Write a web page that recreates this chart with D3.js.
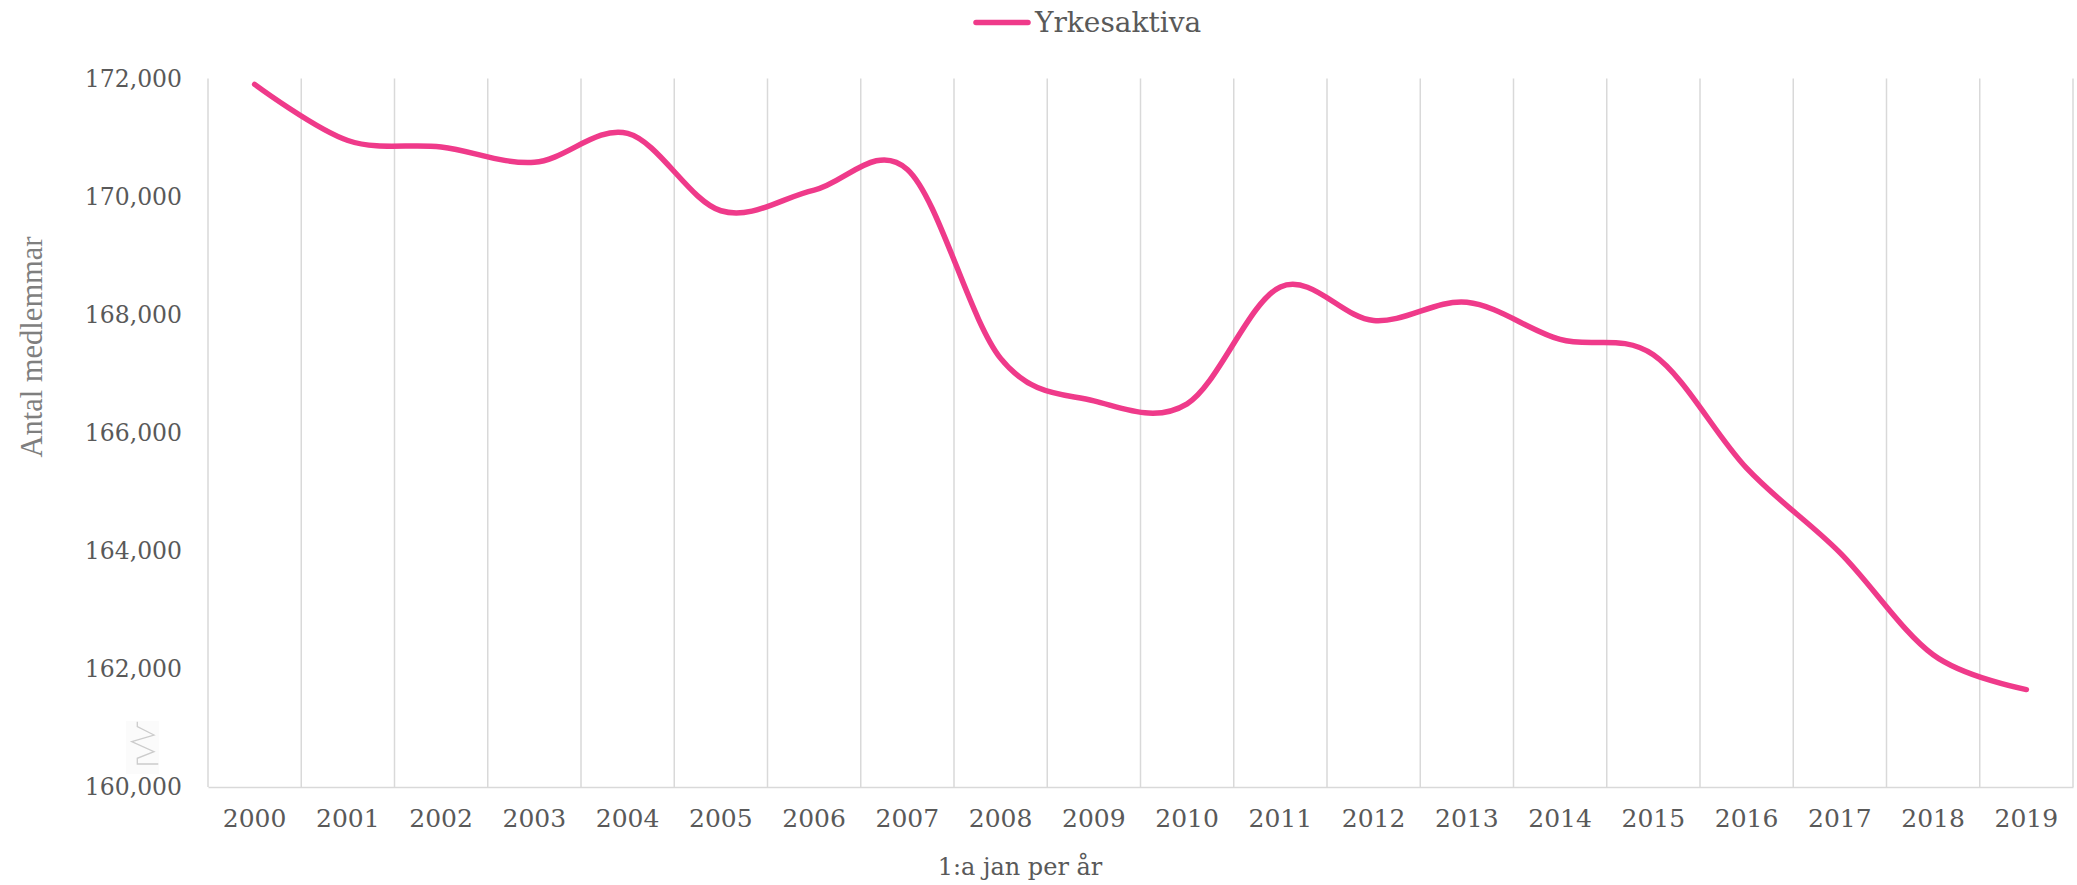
<!DOCTYPE html>
<html>
<head>
<meta charset="utf-8">
<script src="https://cdn.jsdelivr.net/npm/d3@7"></script>
<style>
  html, body { margin: 0; padding: 0; background: #ffffff; }
  svg { display: block; }
</style>
</head>
<body>
<svg id="chart" width="2077" height="885"></svg>
<script>
// ---- Data ----
const years = ["2000","2001","2002","2003","2004","2005","2006","2007","2008","2009",
               "2010","2011","2012","2013","2014","2015","2016","2017","2018","2019"];
const yrkesaktiva = [171900, 170950, 170840, 170580, 171070, 169760, 170110, 170460, 167260, 166540,
                     166490, 168470, 167900, 168210, 167580, 167320, 165400, 163970, 162240, 161650];
const yTicks = [160000, 162000, 164000, 166000, 168000, 170000, 172000];
const seriesName = "Yrkesaktiva";
const yTitle = "Antal medlemmar";
const xTitle = "1:a jan per år";

// ---- Layout ----
const W = 2077, H = 885;
const plot = { left: 208, right: 2073, top: 78.5, bottom: 787 };
const lineColor = "#EF3A8A";
const gridColor = "#d9d9d9";
const textColor = "#595959";
const tickFont = "'DejaVu Serif', Georgia, serif";

const svg = d3.select("#chart");

const x = d3.scaleBand().domain(years).range([plot.left, plot.right]).paddingInner(0).paddingOuter(0);
const y = d3.scaleLinear().domain([160000, 172000]).range([plot.bottom, plot.top]);

// vertical gridlines at category boundaries
const bounds = years.map(d => x(d)).concat([x(years[years.length-1]) + x.bandwidth()]);
svg.append("g").selectAll("line").data(bounds).join("line")
  .attr("x1", d => d).attr("x2", d => d)
  .attr("y1", plot.top).attr("y2", plot.bottom)
  .attr("stroke", gridColor).attr("stroke-width", 1.5);

// x axis
const xAxis = svg.append("g")
  .attr("transform", `translate(0,${plot.bottom})`)
  .call(d3.axisBottom(x).tickSize(0).tickPadding(22));
xAxis.select(".domain").attr("stroke", gridColor).attr("stroke-width", 1.5);
xAxis.selectAll("text")
  .attr("fill", textColor).style("font-family", tickFont).style("font-size", "25px");

// y axis
const yAxis = svg.append("g")
  .attr("transform", `translate(${plot.left},0)`)
  .call(d3.axisLeft(y).tickValues(yTicks).tickSize(0).tickPadding(26).tickFormat(d3.format(",")));
yAxis.select(".domain").remove();
yAxis.selectAll("text")
  .attr("fill", textColor).style("font-family", tickFont).style("font-size", "23.5px");

// line
const line = d3.line()
  .x((d, i) => x(years[i]) + x.bandwidth() / 2)
  .y(d => y(d))
  .curve(d3.curveCardinal.tension(0));
svg.append("path")
  .datum(yrkesaktiva)
  .attr("d", line)
  .attr("fill", "none")
  .attr("stroke", lineColor)
  .attr("stroke-width", 5.5)
  .attr("stroke-linecap", "round")
  .attr("stroke-linejoin", "round");

// legend
const lg = svg.append("g");
lg.append("line").attr("x1", 976).attr("x2", 1028).attr("y1", 22.5).attr("y2", 22.5)
  .attr("stroke", lineColor).attr("stroke-width", 5.5).attr("stroke-linecap", "round");
lg.append("text").attr("x", 1035).attr("y", 22.5).attr("dy", "0.35em")
  .attr("fill", textColor).style("font-family", tickFont).style("font-size", "28px")
  .text(seriesName);

// axis titles
svg.append("text")
  .attr("transform", `translate(31,347) rotate(-90)`)
  .attr("text-anchor", "middle").attr("dy", "0.35em")
  .attr("fill", "#7f7f7f").style("font-family", "'Liberation Serif', 'Times New Roman', serif")
  .style("font-size", "30.5px")
  .text(yTitle);

svg.append("text")
  .attr("x", 1020).attr("y", 867).attr("dy", "0.35em")
  .attr("text-anchor", "middle")
  .attr("fill", textColor).style("font-family", tickFont).style("font-size", "24px")
  .text(xTitle);

// small decorative axis-break glyph near the bottom of the value axis
const g2 = svg.append("g");
g2.append("rect").attr("x", 126).attr("y", 721).attr("width", 33).attr("height", 53).attr("fill", "#fbfbfb");
g2.append("path")
  .attr("d", "M137.3,721.7 L137.3,726.7 L154,735 L131.7,741.7 L154,751.7 L137.3,758.3 L137.3,764 L158.3,764")
  .attr("fill", "none").attr("stroke", "#cccccc").attr("stroke-width", 1.3);
</script>
</body>
</html>
